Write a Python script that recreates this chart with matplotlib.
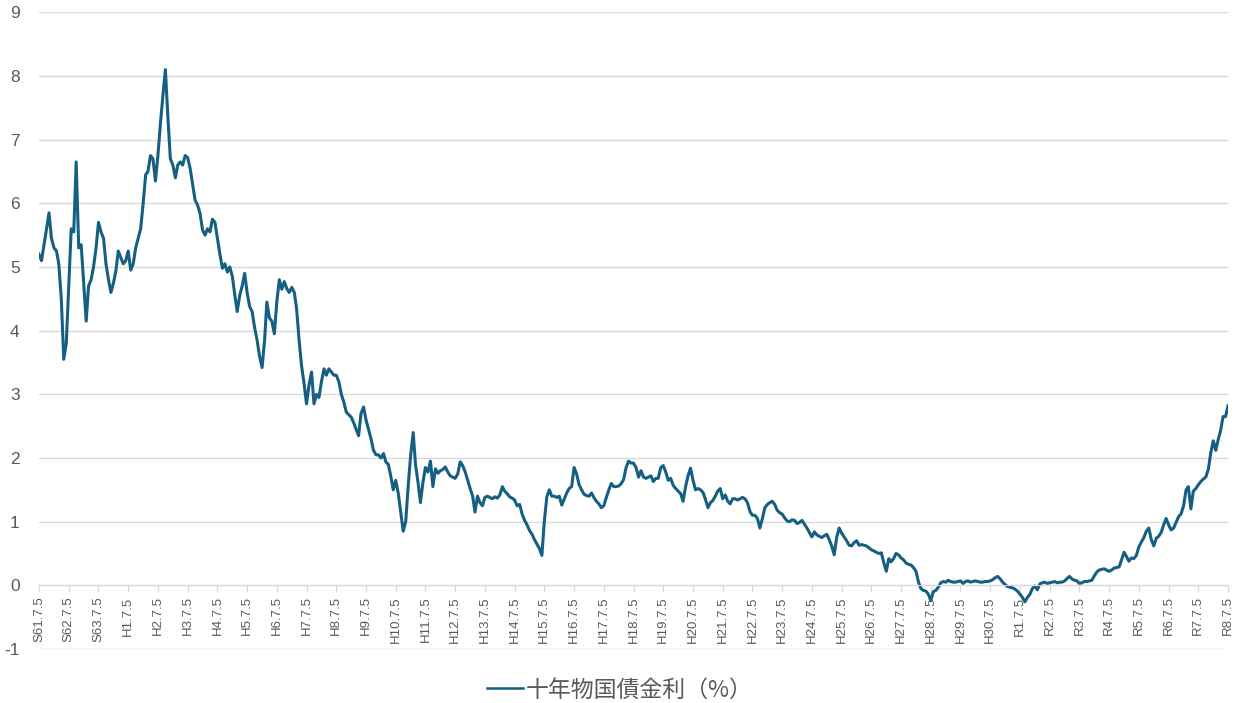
import matplotlib
matplotlib.use("Agg")
import matplotlib.pyplot as plt
import pandas as pd

plt.rcParams['font.family'] = ['Liberation Sans', 'Noto Sans CJK JP', 'DejaVu Sans']
plt.rcParams['axes.unicode_minus'] = False

# monthly readings (5th of each month), S61.7 .. R8.7
yield_rows = [
    [5.2, 5.1, 5.35, 5.6, 5.85, 5.45, 5.3, 5.25, 5.05, 4.5, 3.55, 3.8],
    [4.7, 5.6, 5.55, 6.65, 5.3, 5.35, 4.75, 4.15, 4.7, 4.8, 5.0, 5.3],
    [5.7, 5.55, 5.45, 5.05, 4.8, 4.6, 4.75, 4.95, 5.25, 5.15, 5.05, 5.1],
    [5.25, 4.95, 5.05, 5.3, 5.45, 5.6, 6.0, 6.45, 6.5, 6.75, 6.7, 6.35],
    [6.75, 7.25, 7.7, 8.1, 7.35, 6.7, 6.6, 6.4, 6.6, 6.65, 6.6, 6.75],
    [6.72, 6.55, 6.3, 6.05, 5.97, 5.84, 5.58, 5.5, 5.6, 5.55, 5.75, 5.7],
    [5.45, 5.2, 4.98, 5.05, 4.92, 5.0, 4.85, 4.55, 4.3, 4.55, 4.7, 4.9],
    [4.6, 4.38, 4.3, 4.05, 3.85, 3.6, 3.42, 3.85, 4.45, 4.2, 4.15, 3.95],
    [4.45, 4.8, 4.65, 4.77, 4.66, 4.6, 4.68, 4.6, 4.35, 3.85, 3.45, 3.17],
    [2.85, 3.15, 3.35, 2.85, 3.0, 2.95, 3.2, 3.4, 3.3, 3.4, 3.35, 3.3],
    [3.3, 3.2, 3.0, 2.88, 2.72, 2.68, 2.64, 2.55, 2.45, 2.35, 2.7, 2.8],
    [2.6, 2.45, 2.3, 2.12, 2.05, 2.05, 2.0, 2.07, 1.94, 1.9, 1.72, 1.5],
    [1.65, 1.45, 1.15, 0.85, 1.0, 1.55, 2.05, 2.4, 1.9, 1.62, 1.3, 1.62],
    [1.85, 1.78, 1.95, 1.55, 1.83, 1.76, 1.8, 1.82, 1.86, 1.78, 1.72, 1.7],
    [1.68, 1.75, 1.94, 1.88, 1.78, 1.65, 1.52, 1.4, 1.15, 1.4, 1.3, 1.25],
    [1.38, 1.4, 1.38, 1.36, 1.39, 1.37, 1.42, 1.55, 1.48, 1.44, 1.39, 1.37],
    [1.34, 1.25, 1.27, 1.12, 1.02, 0.95, 0.86, 0.8, 0.72, 0.65, 0.58, 0.47],
    [1.0, 1.39, 1.5, 1.4, 1.4, 1.38, 1.4, 1.26, 1.35, 1.45, 1.52, 1.55],
    [1.85, 1.75, 1.58, 1.5, 1.43, 1.41, 1.4, 1.45, 1.38, 1.32, 1.28, 1.22],
    [1.25, 1.38, 1.5, 1.6, 1.55, 1.55, 1.56, 1.6, 1.66, 1.85, 1.95, 1.92],
    [1.92, 1.85, 1.7, 1.8, 1.7, 1.68, 1.7, 1.72, 1.63, 1.68, 1.68, 1.85],
    [1.88, 1.78, 1.65, 1.68, 1.57, 1.52, 1.48, 1.44, 1.32, 1.55, 1.72, 1.84],
    [1.65, 1.5, 1.52, 1.5, 1.46, 1.35, 1.22, 1.3, 1.33, 1.4, 1.48, 1.52],
    [1.36, 1.42, 1.32, 1.28, 1.36, 1.36, 1.34, 1.36, 1.38, 1.36, 1.3, 1.16],
    [1.1, 1.1, 1.05, 0.9, 1.05, 1.22, 1.27, 1.3, 1.32, 1.27, 1.18, 1.14],
    [1.12, 1.06, 1.01, 1.0, 1.03, 1.02, 0.97, 0.99, 1.02, 0.96, 0.9, 0.83],
    [0.76, 0.84, 0.79, 0.77, 0.75, 0.78, 0.8, 0.71, 0.62, 0.48, 0.75, 0.9],
    [0.82, 0.76, 0.7, 0.63, 0.62, 0.67, 0.7, 0.63, 0.64, 0.63, 0.62, 0.59],
    [0.56, 0.54, 0.52, 0.5, 0.51, 0.36, 0.22, 0.42, 0.37, 0.42, 0.5, 0.48],
    [0.43, 0.4, 0.35, 0.33, 0.32, 0.28, 0.22, 0.05, -0.05, -0.08, -0.09, -0.14],
    [-0.24, -0.1, -0.08, -0.03, 0.04, 0.06, 0.05, 0.08, 0.06, 0.05, 0.05, 0.06],
    [0.07, 0.03, 0.06, 0.07, 0.05, 0.06, 0.07, 0.06, 0.05, 0.05, 0.06, 0.06],
    [0.07, 0.09, 0.12, 0.14, 0.1, 0.05, 0.01, -0.02, -0.03, -0.04, -0.06, -0.09],
    [-0.14, -0.19, -0.26, -0.19, -0.14, -0.05, -0.01, -0.07, 0.02, 0.04, 0.05, 0.03],
    [0.04, 0.05, 0.06, 0.04, 0.05, 0.05, 0.07, 0.11, 0.14, 0.1, 0.08, 0.07],
    [0.03, 0.04, 0.06, 0.06, 0.07, 0.08, 0.15, 0.21, 0.24, 0.25, 0.26, 0.24],
    [0.22, 0.24, 0.27, 0.28, 0.29, 0.4, 0.52, 0.45, 0.38, 0.43, 0.42, 0.47],
    [0.6, 0.68, 0.75, 0.85, 0.9, 0.72, 0.62, 0.74, 0.77, 0.83, 0.95, 1.05],
    [0.95, 0.87, 0.9, 0.99, 1.08, 1.12, 1.25, 1.5, 1.55, 1.2, 1.48, 1.52],
    [1.58, 1.63, 1.67, 1.7, 1.82, 2.08, 2.27, 2.12, 2.28, 2.43, 2.65, 2.65],
    [2.82],
]
yields = [v for row in yield_rows for v in row]

tick_labels = (['S%d.7.5' % y for y in (61, 62, 63)]
               + ['H%d.7.5' % y for y in range(1, 31)]
               + ['R%d.7.5' % y for y in range(1, 9)])

series_name = '十年物国債金利（%）'
#============================================================================================
dates = pd.date_range('1986-07-01', periods=len(yields), freq='MS') + pd.Timedelta(days=4)
tick_dates = [pd.Timestamp(1986 + i, 7, 5) for i in range(len(tick_labels))]

fig = plt.figure(figsize=(12.39, 7.03), dpi=100)
ax = fig.add_axes([39 / 1239, (703 - 649) / 703, (1228 - 39) / 1239, (649 - 12.3) / 703])

ax.plot(dates, yields, color='#156082', lw=2.2, label=series_name)

ax.set_ylim(-1, 9)
ax.set_yticks(range(-1, 10))
ax.set_xlim(tick_dates[0], tick_dates[-1])
ax.set_xticks(tick_dates)
ax.set_xticklabels(tick_labels)
ax.tick_params(axis='x', direction='out', length=5, color='#d9d9d9', pad=3,
               labelrotation=90, labelsize=9.5, labelcolor='#595959')
ax.tick_params(axis='y', length=0, labelsize=12.5, labelcolor='#595959', pad=14)

ax.grid(axis='y', color='#d9d9d9', lw=1)
ax.set_axisbelow(True)
for s in ['top', 'right', 'left']:
    ax.spines[s].set_visible(False)
ax.spines['bottom'].set_position(('data', 0))
ax.spines['bottom'].set_color('#d9d9d9')

leg = fig.legend(loc='lower center', bbox_to_anchor=(0.5, -0.027), frameon=False,
                 handlelength=1.6, handletextpad=0.1,
                 prop={'family': ['Noto Sans CJK JP'], 'size': 16.5}, labelcolor='#595959')
for line in leg.get_lines():
    line.set_linewidth(1.8)

fig.savefig('out.png', dpi=100)
